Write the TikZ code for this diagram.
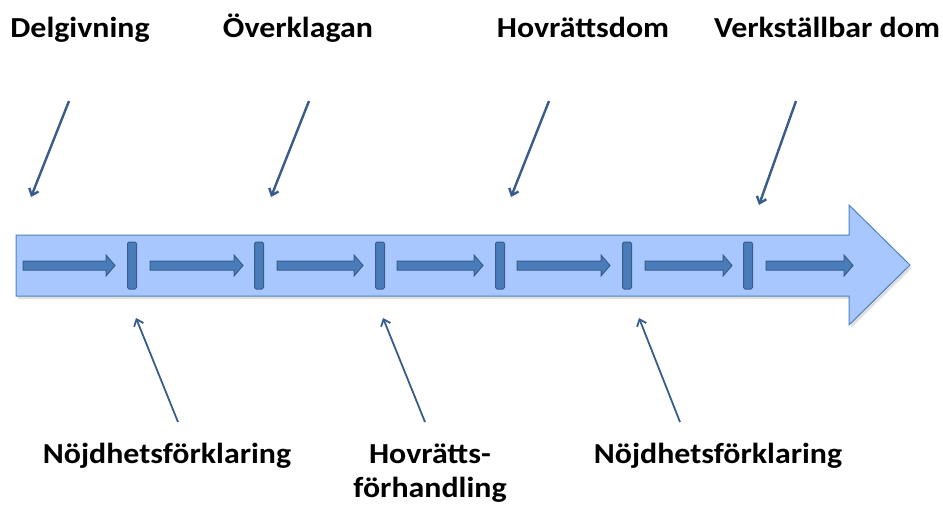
\documentclass[tikz,border=0pt]{standalone}
\usepackage{fontspec}
\setmainfont{Carlito}
\usetikzlibrary{arrows.meta}

\definecolor{bandfill}{RGB}{167,199,254}
\definecolor{bandline}{RGB}{79,129,189}
\definecolor{stepfill}{RGB}{74,124,186}
\definecolor{stepline}{RGB}{56,93,138}

\newfontfamily\labelfont[FakeStretch = 1.10]{Carlito}

\tikzset{
	label/.style = {font = \labelfont\bfseries\fontsize{29}{34}\selectfont, anchor = base, align = center, inner sep = 0pt},
	pointer/.style = {->, stepline, line width = 2.4pt},
	thinpointer/.style = {->, stepline, line width = 1.8pt}
}

\begin{document}
\begin{tikzpicture}[x = 1pt, y = -1pt, > = {Straight Barb[length = 6pt, width = 10pt]}]

	\useasboundingbox (0, 0) rectangle (943, 506);

	% Big band arrow + shadow

	\fill [black!12] (18, 238) -- (851, 238) -- (851, 208) -- (912, 268) -- (851, 328) -- (851, 299) -- (18, 299) -- cycle;
	\draw [bandline, fill = bandfill, line width = 1pt] (16, 235) -- (849, 235) -- (849, 205) -- (910, 265) -- (849, 325) -- (849, 296) -- (16, 296) -- cycle;

	% Small arrows along the band

	\foreach \a/\b in {23/115, 150/243, 277/363, 397/483, 517/610, 645/732, 766/853}
		\draw [stepline, fill = stepfill, line width = 1pt] (\a, 261) -- (\b-9, 261) -- (\b-9, 255) -- (\b, 265.5) -- (\b-9, 276) -- (\b-9, 270) -- (\a, 270) -- cycle;

	% Bars between the steps

	\foreach \c in {132, 259, 380, 500, 627, 748}
		\draw [stepline, fill = stepfill, line width = 1pt, rounded corners = 1.5pt] (\c-4.5, 242) rectangle (\c+4.5, 289);

	% Labels above

	\node [label] (delg) at (80, 37.5) {Delgivning};
	\node [label] (overk) at (298, 37.5) {Överklagan};
	\node [label] (hovdom) at (583, 37.5) {Hovrättsdom};
	\node [label] (verk) at (827, 37.5) {Verkställbar dom};

	% Labels below

	\node [label] (nojd1) at (167, 463) {Nöjdhetsförklaring};
	\node [label] (hovf) at (430, 497) {Hovrätts-\\förhandling};
	\node [label] (nojd2) at (718, 463) {Nöjdhetsförklaring};

	% Pointers from the labels

	\coordinate (delg-from) at (69, 101);
	\coordinate (delg-to) at (31, 197);
	\coordinate (overk-from) at (309, 101);
	\coordinate (overk-to) at (271, 197);
	\coordinate (hovdom-from) at (549, 101);
	\coordinate (hovdom-to) at (511, 197);
	\coordinate (verk-from) at (796, 101);
	\coordinate (verk-to) at (759, 205);

	\draw [pointer] (delg-from) -- (delg-to);
	\draw [pointer] (overk-from) -- (overk-to);
	\draw [pointer] (hovdom-from) -- (hovdom-to);
	\draw [pointer] (verk-from) -- (verk-to);

	\coordinate (nojd1-from) at (178, 422);
	\coordinate (nojd1-to) at (136, 318);
	\coordinate (hovf-from) at (425, 422);
	\coordinate (hovf-to) at (383, 318);
	\coordinate (nojd2-from) at (680, 422);
	\coordinate (nojd2-to) at (639, 318);

	\draw [thinpointer] (nojd1-from) -- (nojd1-to);
	\draw [thinpointer] (hovf-from) -- (hovf-to);
	\draw [thinpointer] (nojd2-from) -- (nojd2-to);

\end{tikzpicture}
\end{document}
